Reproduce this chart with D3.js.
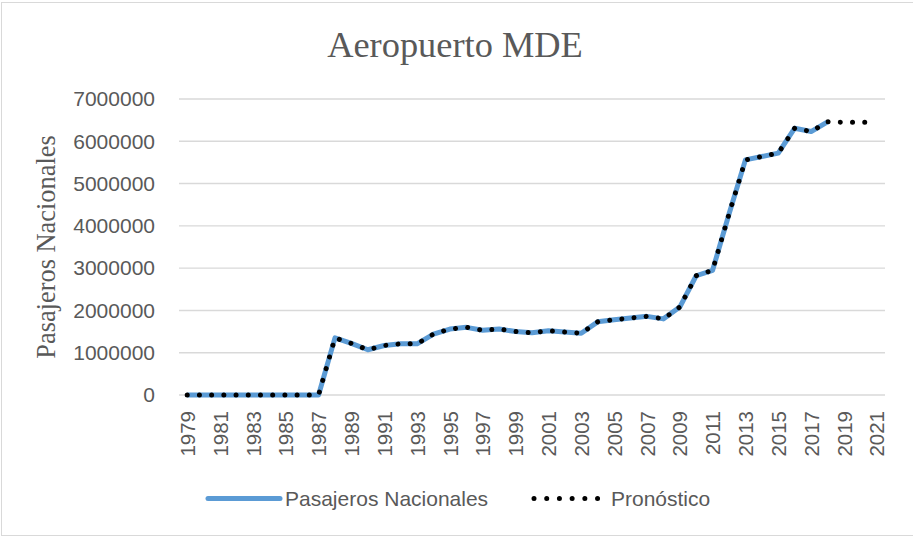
<!DOCTYPE html>
<html>
<head>
<meta charset="utf-8">
<script src="https://cdn.jsdelivr.net/npm/d3@7"></script>
<style>
  html, body { margin: 0; padding: 0; background: #fff; }
  svg { display: block; }
</style>
</head>
<body>
<svg id="chart" width="913" height="537"></svg>
<script>
// Domestic passengers at MDE airport, 1979-2018, and forecast to 2021
const years = d3.range(1979, 2022);
const pasajerosNacionales = [
  0, 0, 0, 0, 0, 0, 0, 0, 0,
  1350000, 1220000, 1070000, 1170000, 1210000, 1210000, 1440000, 1560000,
  1600000, 1530000, 1560000, 1500000, 1470000, 1520000, 1490000, 1460000,
  1730000, 1780000, 1820000, 1860000, 1800000, 2080000, 2820000, 2950000,
  4280000, 5560000, 5640000, 5720000, 6310000, 6230000, 6460000
];
const pronosticoFuturo = [6450000, 6450000, 6450000];
const pronostico = pasajerosNacionales.concat(pronosticoFuturo);
const yTicks = [0, 1000000, 2000000, 3000000, 4000000, 5000000, 6000000, 7000000];
const xTickYears = years.filter(y => y % 2 === 1);

const title = "Aeropuerto MDE";
const yTitle = "Pasajeros Nacionales";
const seriesNames = ["Pasajeros Nacionales", "Pronóstico"];

const svg = d3.select("#chart");
const W = 913, H = 537;
const plot = { left: 179, right: 885, top: 99, bottom: 395 };
const textColor = "#595959";
const gridColor = "#D9D9D9";
const blue = "#5B9BD5";
const sansFont = "'Liberation Sans', Arial, sans-serif";
const serifFont = "'Liberation Serif', 'Times New Roman', serif";

// outer chart frame
svg.append("rect")
  .attr("x", 1.5).attr("y", 2.5)
  .attr("width", W + 10).attr("height", 533)
  .attr("fill", "#fff")
  .attr("stroke", gridColor).attr("stroke-width", 1);

const x = d3.scalePoint().domain(years).range([plot.left, plot.right]).padding(0.5);
const y = d3.scaleLinear().domain([0, 7000000]).range([plot.bottom, plot.top]);

// horizontal gridlines
svg.append("g")
  .selectAll("line")
  .data(yTicks)
  .join("line")
  .attr("x1", plot.left).attr("x2", plot.right)
  .attr("y1", d => y(d)).attr("y2", d => y(d))
  .attr("stroke", gridColor).attr("stroke-width", 1.4);

// y axis labels
const yAxis = d3.axisLeft(y).tickValues(yTicks).tickFormat(d3.format("d")).tickSize(0).tickPadding(0);
const gy = svg.append("g").attr("transform", "translate(155,0)").call(yAxis);
gy.select(".domain").remove();
gy.selectAll("text")
  .attr("fill", textColor)
  .style("font-family", sansFont)
  .style("font-size", "21px");

// x axis labels (every other year, rotated)
const xAxis = d3.axisBottom(x).tickValues(xTickYears).tickSize(0).tickPadding(0);
const gx = svg.append("g").attr("transform", `translate(0,${plot.bottom})`).call(xAxis);
gx.select(".domain").remove();
gx.selectAll("text")
  .attr("fill", textColor)
  .style("font-family", sansFont)
  .style("font-size", "20.5px")
  .attr("text-anchor", "end")
  .attr("dy", "0.35em")
  .attr("transform", "translate(0,16) rotate(-90)")
  .attr("x", 0).attr("y", 0);

const line = d3.line()
  .x((d, i) => x(years[i]))
  .y(d => y(d));

// actual series: thick blue line
svg.append("path")
  .datum(pasajerosNacionales)
  .attr("d", line)
  .attr("fill", "none")
  .attr("stroke", blue)
  .attr("stroke-width", 5)
  .attr("stroke-linejoin", "round");

// forecast series: round black dots
svg.append("path")
  .datum(pronostico)
  .attr("d", line)
  .attr("fill", "none")
  .attr("stroke", "#000")
  .attr("stroke-width", 5)
  .attr("stroke-linecap", "round")
  .attr("stroke-dasharray", "0.01 12.2");

// title
svg.append("text")
  .attr("x", 455).attr("y", 57)
  .attr("text-anchor", "middle")
  .attr("fill", textColor)
  .style("font-family", serifFont)
  .style("font-size", "36.4px")
  .text(title);

// y axis title
svg.append("text")
  .attr("transform", "translate(55,247) rotate(-90)")
  .attr("text-anchor", "middle")
  .attr("fill", textColor)
  .style("font-family", serifFont)
  .style("font-size", "26.4px")
  .text(yTitle);

// legend
const legY = 498.5;
svg.append("line")
  .attr("x1", 208).attr("x2", 280)
  .attr("y1", legY).attr("y2", legY)
  .attr("stroke", blue).attr("stroke-width", 5)
  .attr("stroke-linecap", "round");
svg.append("text")
  .attr("x", 285).attr("y", legY).attr("dy", "0.35em")
  .attr("fill", textColor)
  .style("font-family", sansFont).style("font-size", "21px")
  .text(seriesNames[0]);

svg.append("line")
  .attr("x1", 534).attr("x2", 598)
  .attr("y1", legY).attr("y2", legY)
  .attr("stroke", "#000").attr("stroke-width", 5)
  .attr("stroke-linecap", "round")
  .attr("stroke-dasharray", "0.01 12.7");
svg.append("text")
  .attr("x", 611).attr("y", legY).attr("dy", "0.35em")
  .attr("fill", textColor)
  .style("font-family", sansFont).style("font-size", "21px")
  .text(seriesNames[1]);
</script>
</body>
</html>
